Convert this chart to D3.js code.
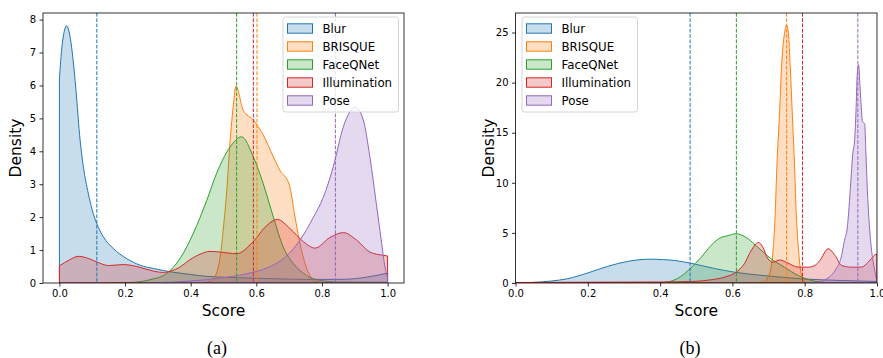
<!DOCTYPE html>
<html>
<head>
<meta charset="utf-8">
<script src="https://cdn.jsdelivr.net/npm/d3@7"></script>
<style>
  body { margin: 0; background: #fff; }
  .chart text { font-family: "DejaVu Sans", sans-serif; fill: #000; }
  .chart .caption { font-family: "Liberation Serif", serif; }
</style>
</head>
<body>
<div class="chart" id="chart"></div>
<script>
// series names and colours (matplotlib tab10)
const seriesNames = ["Blur", "BRISQUE", "FaceQNet", "Illumination", "Pose"];
const seriesColors = ["#1f77b4", "#ff7f0e", "#2ca02c", "#d62728", "#9467bd"];

// panel (a): [score, density]
const blurA = [[0,6.2],[0.008,7.2],[0.022,7.81],[0.033,7.45],[0.042,6.75],[0.05,5.9],[0.063,4.34],[0.073,3.53],[0.088,2.72],[0.103,2.11],[0.114,1.8],[0.134,1.4],[0.164,1.05],[0.205,0.74],[0.246,0.54],[0.286,0.44],[0.317,0.38],[0.338,0.34],[0.4,0.26],[0.449,0.2],[0.55,0.16],[0.65,0.13],[0.75,0.11],[0.85,0.11],[0.9,0.13],[0.95,0.2],[1.0,0.3]];
const brisqueA = [[0.42,0],[0.46,0.05],[0.47,0.13],[0.49,0.8],[0.5,1.7],[0.51,2.8],[0.52,4.3],[0.53,5.4],[0.538,5.98],[0.56,5.25],[0.591,4.95],[0.621,4.5],[0.652,3.83],[0.672,3.42],[0.7,3.0],[0.718,2.0],[0.733,1.2],[0.75,0.55],[0.765,0.2],[0.78,0.05],[0.82,0]];
const faceqA = [[0.15,0],[0.226,0.02],[0.276,0.1],[0.327,0.29],[0.368,0.75],[0.408,1.51],[0.449,2.51],[0.479,3.33],[0.52,4.13],[0.555,4.44],[0.591,3.83],[0.621,3.02],[0.652,2.0],[0.682,1.09],[0.713,0.59],[0.753,0.23],[0.794,0.08],[0.85,0.03],[1.0,0.02]];
const illumA = [[0,0.52],[0.03,0.7],[0.058,0.81],[0.09,0.74],[0.114,0.64],[0.15,0.53],[0.195,0.56],[0.236,0.5],[0.287,0.36],[0.317,0.32],[0.338,0.36],[0.37,0.5],[0.398,0.71],[0.43,0.88],[0.459,0.96],[0.49,0.94],[0.54,0.89],[0.59,1.25],[0.632,1.75],[0.664,1.93],[0.703,1.65],[0.744,1.25],[0.779,1.06],[0.824,1.38],[0.865,1.53],[0.906,1.3],[0.946,0.94],[0.987,0.84],[1.0,0.82]];
const poseA = [[0.25,0],[0.3,0.01],[0.4,0.06],[0.49,0.15],[0.57,0.28],[0.64,0.49],[0.69,0.8],[0.733,1.3],[0.774,2.0],[0.804,2.6],[0.835,3.55],[0.865,4.74],[0.885,5.2],[0.901,5.35],[0.926,4.95],[0.946,3.83],[0.967,2.31],[0.982,1.2],[0.992,0.49],[1.0,0.18]];
const meansA = [0.114, 0.602, 0.540, 0.591, 0.841];

// panel (b)
const blurB = [[0,0],[0.05,0.06],[0.1,0.2],[0.143,0.42],[0.198,0.98],[0.254,1.65],[0.309,2.15],[0.374,2.38],[0.41,2.33],[0.44,2.25],[0.485,1.97],[0.55,1.45],[0.606,1.08],[0.67,0.8],[0.73,0.6],[0.79,0.42],[0.9,0.25],[1.0,0.15]];
const brisqueB = [[0.65,0],[0.688,0.1],[0.697,0.5],[0.707,1.58],[0.713,3.5],[0.718,6.6],[0.723,11.6],[0.73,16.6],[0.736,21.6],[0.744,24.9],[0.75,25.75],[0.755,24.9],[0.76,21.6],[0.766,16.6],[0.772,11.6],[0.777,6.6],[0.783,3.25],[0.788,1.4],[0.794,0.5],[0.803,0.1],[0.85,0]];
const faceqB = [[0.3,0],[0.4,0.05],[0.42,0.1],[0.457,0.65],[0.485,1.5],[0.512,2.5],[0.541,3.75],[0.569,4.55],[0.585,4.7],[0.61,4.92],[0.643,4.42],[0.67,3.58],[0.707,2.42],[0.744,1.58],[0.782,0.75],[0.819,0.25],[0.856,0.05],[0.9,0]];
const illumB = [[0,0.05],[0.2,0.08],[0.4,0.1],[0.485,0.15],[0.541,0.32],[0.578,0.58],[0.61,1.08],[0.633,1.92],[0.652,3.25],[0.672,4.05],[0.684,3.58],[0.698,2.42],[0.712,2.08],[0.731,2.3],[0.754,1.98],[0.782,1.58],[0.809,1.58],[0.828,1.75],[0.842,2.25],[0.865,3.42],[0.884,2.75],[0.902,1.75],[0.93,1.58],[0.957,1.58],[0.976,2.1],[0.995,2.82],[1.0,2.9]];
const poseB = [[0.8,0],[0.83,0.05],[0.855,0.3],[0.873,0.75],[0.887,1.42],[0.901,2.58],[0.91,4.25],[0.918,5.58],[0.924,8.25],[0.929,10.9],[0.933,12.9],[0.938,14.25],[0.942,17.25],[0.945,20.6],[0.949,21.8],[0.953,19.6],[0.957,17.25],[0.96,16.1],[0.966,15.9],[0.969,13.25],[0.973,9.58],[0.978,6.25],[0.984,3.58],[0.992,1.58],[0.998,0.5],[1.0,0.3]];
const meansB = [0.483, 0.750, 0.611, 0.794, 0.947];

// tick labels
const xTicks = [0, 0.2, 0.4, 0.6, 0.8, 1.0];
const yTicksA = [0, 1, 2, 3, 4, 5, 6, 7, 8];
const yTicksB = [0, 5, 10, 15, 20, 25];

const panels = [
  { left: 43, right: 404, top: 13, bottom: 283, xDomain: [-0.05, 1.05], yDomain: [0, 8.2],
    series: [blurA, brisqueA, faceqA, illumA, poseA], means: meansA, yTicks: yTicksA,
    legendX: 283, caption: "(a)", captionX: 217 },
  { left: 515.5, right: 877, top: 13, bottom: 283, xDomain: [0, 1], yDomain: [0, 26.95],
    series: [blurB, brisqueB, faceqB, illumB, poseB], means: meansB, yTicks: yTicksB,
    legendX: 522, caption: "(b)", captionX: 690 }
];

const svg = d3.select("#chart").append("svg")
  .attr("width", 883).attr("height", 358);

panels.forEach((p, pi) => {
  const x = d3.scaleLinear().domain(p.xDomain).range([p.left, p.right]);
  const y = d3.scaleLinear().domain(p.yDomain).range([p.bottom, p.top]);

  const clipId = "clip" + pi;
  svg.append("clipPath").attr("id", clipId)
    .append("rect")
      .attr("x", p.left).attr("y", p.top)
      .attr("width", p.right - p.left).attr("height", p.bottom - p.top);

  const plot = svg.append("g").attr("clip-path", "url(#" + clipId + ")");

  const area = d3.area()
    .x(d => x(d[0]))
    .y0(y(0))
    .y1(d => y(d[1]))
    .curve(d3.curveMonotoneX);

  p.series.forEach((s, i) => {
    plot.append("path")
      .attr("d", area(s))
      .attr("fill", seriesColors[i])
      .attr("fill-opacity", 0.25)
      .attr("stroke", seriesColors[i])
      .attr("stroke-width", 1)
      .attr("stroke-linejoin", "round");
  });

  // mean lines
  p.means.forEach((m, i) => {
    plot.append("line")
      .attr("x1", x(m)).attr("x2", x(m))
      .attr("y1", p.top).attr("y2", p.bottom)
      .attr("stroke", seriesColors[i])
      .attr("stroke-width", 1)
      .attr("stroke-dasharray", "3.7,1.6");
  });

  // axes
  const xAxis = svg.append("g")
    .attr("transform", "translate(0," + p.bottom + ")")
    .call(d3.axisBottom(x).tickValues(xTicks).tickFormat(d3.format(".1f"))
      .tickSize(3.5).tickPadding(3.5));
  const yAxis = svg.append("g")
    .attr("transform", "translate(" + p.left + ",0)")
    .call(d3.axisLeft(y).tickValues(p.yTicks).tickFormat(d3.format("d"))
      .tickSize(3.5).tickPadding(3.5));
  [xAxis, yAxis].forEach(a => {
    a.select(".domain").remove();
    a.selectAll("line").attr("stroke", "#000").attr("stroke-width", 0.8);
    a.selectAll("text").attr("font-size", 10).attr("font-family", "DejaVu Sans");
  });

  svg.append("rect")
    .attr("x", p.left).attr("y", p.top)
    .attr("width", p.right - p.left).attr("height", p.bottom - p.top)
    .attr("fill", "none").attr("stroke", "#000").attr("stroke-width", 0.8);

  // axis labels
  svg.append("text")
    .attr("transform", "translate(" + (p.left - 22) + "," + ((p.top + p.bottom) / 2) + ") rotate(-90)")
    .attr("text-anchor", "middle")
    .attr("font-size", 15.5)
    .text("Density");
  svg.append("text")
    .attr("x", (p.left + p.right) / 2).attr("y", 316)
    .attr("text-anchor", "middle")
    .attr("font-size", 15.5)
    .text("Score");
  svg.append("text")
    .attr("class", "caption")
    .attr("x", p.captionX).attr("y", 354)
    .attr("text-anchor", "middle")
    .attr("font-size", 18)
    .text(p.caption);

  // legend
  const legend = svg.append("g")
    .attr("transform", "translate(" + p.legendX + ",17)");
  legend.append("rect")
    .attr("width", 115.5).attr("height", 95)
    .attr("rx", 2.5)
    .attr("fill", "#fff").attr("fill-opacity", 0.8)
    .attr("stroke", "#ccc").attr("stroke-width", 0.8);
  const rows = legend.selectAll("g.row")
    .data(seriesNames)
    .enter().append("g")
      .attr("class", "row")
      .attr("transform", (d, i) => "translate(0," + (11.5 + i * 18) + ")");
  rows.append("rect")
    .attr("x", 4.5).attr("y", -4.7)
    .attr("width", 25).attr("height", 9.4)
    .attr("fill", (d, i) => seriesColors[i]).attr("fill-opacity", 0.25)
    .attr("stroke", (d, i) => seriesColors[i]).attr("stroke-width", 1);
  rows.append("text")
    .attr("x", 39.5)
    .attr("dy", "0.36em")
    .attr("font-size", 11.8)
    .text(d => d);
});
</script>
</body>
</html>
